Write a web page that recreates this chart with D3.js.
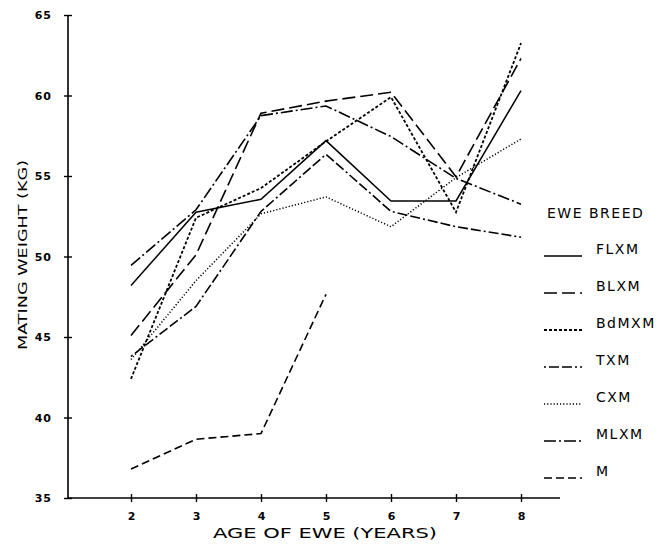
<!DOCTYPE html>
<html><head><meta charset="utf-8">
<script src="https://cdn.jsdelivr.net/npm/d3@7"></script>
<style>
html,body{margin:0;padding:0;background:#fff;}
svg text{font-family:"DejaVu Sans",sans-serif;fill:#000;}
</style></head>
<body>
<svg id="chart" width="667" height="547"></svg>
<script>
const years = [2,3,4,5,6,7,8];
const yTicks = [35,40,45,50,55,60,65];
const breeds = ["FLXM","BLXM","BdMXM","TXM","CXM","MLXM","M"];
const FLXM  = [48.2, 52.75, 53.55, 57.2, 53.45, 53.45, 60.3];
const BLXM  = [45.1, 50.1, 58.9, 59.65, 60.2, 54.95, 62.3];
const BdMXM = [42.4, 52.4, 54.25, 57.15, 59.9, 52.75, 63.25];
const TXM   = [43.8, 46.9, 52.8, 56.35, 52.8, 51.85, 51.2];
const CXM   = [43.6, 48.5, 52.65, 53.7, 51.85, 54.9, 57.3];
const MLXM  = [49.45, 52.9, 58.75, 59.35, 57.45, 54.85, 53.25];
const M     = [36.8, 38.65, 39.0, 47.65];
const seriesValues = [FLXM, BLXM, BdMXM, TXM, CXM, MLXM, M];

const styles = {
  FLXM: {dash: null, w: 1.5},
  BLXM: {dash: "13,5", w: 1.6},
  BdMXM:{dash: "3,2", w: 1.8},
  TXM:  {dash: "2,3,10,3,10,3", w: 1.6},
  CXM:  {dash: "1.2,2", w: 1.5},
  MLXM: {dash: "12,3,2,3", w: 1.6},
  M:    {dash: "8,4", w: 1.6}
};

const svg = d3.select("#chart");
const x = d3.scaleLinear().domain([2,8]).range([131,521]);
const y = d3.scaleLinear().domain([35,65]).range([498,15]);
const axisX0 = 68, axisXEnd = 560;

// Y axis
const ya = svg.append("g").attr("transform",`translate(${axisX0},0)`)
  .call(d3.axisLeft(y).tickValues(yTicks).tickSize(4).tickPadding(10));
ya.select(".domain").remove();
ya.selectAll(".tick line").attr("x1",-4).attr("x2",4).attr("stroke","#000").attr("stroke-width",1.4);
ya.selectAll(".tick text").attr("font-size",11).attr("font-weight","bold")
  .attr("font-family","DejaVu Sans, sans-serif").attr("letter-spacing",1).attr("dx",-2);
svg.append("line").attr("x1",axisX0).attr("x2",axisX0).attr("y1",y(65)).attr("y2",y(35))
  .attr("stroke","#000").attr("stroke-width",1.6);

// X axis
const xa = svg.append("g").attr("transform",`translate(0,${y(35)})`)
  .call(d3.axisBottom(x).tickValues(years).tickFormat(d3.format("d")).tickSize(4).tickPadding(10));
xa.select(".domain").remove();
xa.selectAll(".tick line").attr("y1",-4).attr("y2",4).attr("stroke","#000").attr("stroke-width",1.4);
xa.selectAll(".tick text").attr("font-size",11).attr("font-weight","bold")
  .attr("font-family","DejaVu Sans, sans-serif");
svg.append("line").attr("x1",axisX0).attr("x2",axisXEnd).attr("y1",y(35)).attr("y2",y(35))
  .attr("stroke","#000").attr("stroke-width",1.6);

// Axis titles
svg.append("text").attr("x",325).attr("y",538).attr("text-anchor","middle")
  .attr("font-size",14).attr("textLength",224).attr("lengthAdjust","spacingAndGlyphs")
  .text("AGE OF EWE (YEARS)");
svg.append("text").attr("transform","translate(27,255) rotate(-90)").attr("text-anchor","middle")
  .attr("font-size",13).attr("font-family","DejaVu Sans Condensed, DejaVu Sans, sans-serif")
  .attr("textLength",190).attr("lengthAdjust","spacingAndGlyphs")
  .text("MATING WEIGHT (KG)");

// Lines
const line = d3.line().x((d,i)=>x(years[i])).y(d=>y(d));
breeds.forEach((b,k)=>{
  svg.append("path").datum(seriesValues[k]).attr("d",line)
    .attr("fill","none").attr("stroke","#000")
    .attr("stroke-width",styles[b].w)
    .attr("stroke-dasharray",styles[b].dash)
    .attr("stroke-linejoin","miter");
});

// Legend
svg.append("text").attr("x",547).attr("y",218).attr("font-size",14)
  .attr("letter-spacing",1.5).text("EWE BREED");
breeds.forEach((b,i)=>{
  const ly = 256 + i*37;
  svg.append("line").attr("x1",544).attr("x2",582).attr("y1",ly).attr("y2",ly)
    .attr("stroke","#000").attr("stroke-width",styles[b].w).attr("stroke-dasharray",styles[b].dash);
  svg.append("text").attr("x",596).attr("y",ly-2).attr("font-size",14)
    .attr("letter-spacing",1.5).text(b);
});
</script>
</body></html>
